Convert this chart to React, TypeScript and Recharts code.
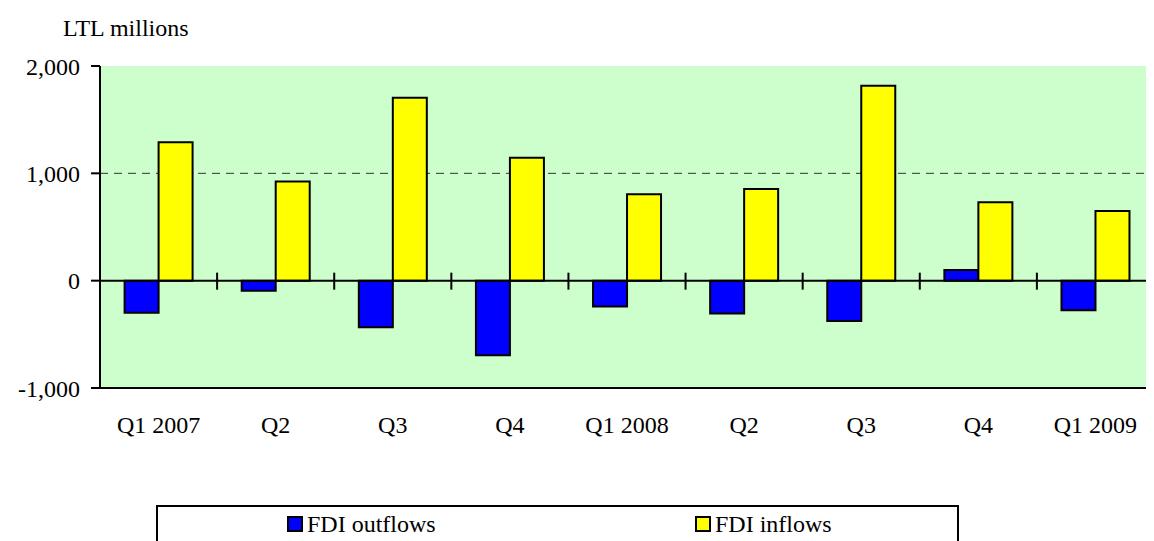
import { BarChart, Bar, XAxis, YAxis, CartesianGrid, ReferenceLine } from 'recharts';

const CATEGORIES = ['Q1 2007', 'Q2', 'Q3', 'Q4', 'Q1 2008', 'Q2', 'Q3', 'Q4', 'Q1 2009'];
const FDI_OUTFLOWS = [-300, -95, -435, -695, -240, -305, -375, 100, -275];
const FDI_INFLOWS = [1290, 925, 1705, 1145, 805, 855, 1815, 730, 650];
const Y_TICKS = [-1000, 0, 1000, 2000];
const SERIES_NAMES = ['FDI outflows', 'FDI inflows'];
const SERIES_COLORS = ['#0000FF', '#FFFF00'];

const FONT = 'serif';

const data = CATEGORIES.map((q, i) => ({
  key: `${q}-${i}`,
  outflows: FDI_OUTFLOWS[i],
  inflows: FDI_INFLOWS[i],
}));

// zero line with the small category divider ticks, like the excel axis
const ZeroAxis = (props: any) => {
  const { x1, x2, y1 } = props;
  const step = (x2 - x1) / CATEGORIES.length;
  return (
    <g>
      <line x1={x1} x2={x2} y1={y1} y2={y1} stroke="#000" strokeWidth={2} />
      {CATEGORIES.slice(1).map((_, i) => (
        <line
          key={i}
          x1={x1 + step * (i + 1)}
          x2={x1 + step * (i + 1)}
          y1={y1 - 8}
          y2={y1 + 9}
          stroke="#000"
          strokeWidth={2}
        />
      ))}
    </g>
  );
};

// page coords minus the 8px body margin
const legendX = [279, 687];

export default function App() {
  return (
    <div style={{ position: 'relative', width: 1146, height: 533, fontFamily: FONT }}>
      <div style={{ position: 'absolute', left: 55, top: 6, fontSize: 24, lineHeight: '28px', fontFamily: FONT }}>
        LTL millions
      </div>
      <BarChart
        width={1146}
        height={533}
        data={data}
        margin={{ top: 58, right: 0, left: 0, bottom: 113 }}
        barCategoryGap="21%"
        barGap={0}
      >
        <CartesianGrid
          vertical={false}
          fill="#CCFFCC"
          stroke="#333"
          strokeDasharray="8 6"
          horizontalValues={[1000]}
        />
        <XAxis
          dataKey="key"
          tickFormatter={(v: string) => v.split('-')[0]}
          interval={0}
          height={40}
          tickLine={false}
          tickSize={0}
          tickMargin={28}
          axisLine={{ stroke: '#000', strokeWidth: 2 }}
          tick={{ fill: '#000', fontSize: 24, fontFamily: FONT, style: { fontFamily: FONT } }}
        />
        <XAxis
          xAxisId="top"
          dataKey="key"
          orientation="top"
          height={0}
          tick={false}
          tickLine={false}
          axisLine={{ stroke: '#000', strokeWidth: 2 }}
        />
        <YAxis
          width={92}
          domain={[-1000, 2000]}
          ticks={Y_TICKS}
          interval={0}
          tickSize={9}
          tickMargin={11}
          tickFormatter={(v: number) => v.toLocaleString('en-US')}
          tickLine={{ stroke: '#000', strokeWidth: 2 }}
          axisLine={{ stroke: '#000', strokeWidth: 2 }}
          tick={{ fill: '#000', fontSize: 24, fontFamily: FONT, style: { fontFamily: FONT } }}
        />
        <Bar dataKey="outflows" name={SERIES_NAMES[0]} fill={SERIES_COLORS[0]} stroke="#000" strokeWidth={2} isAnimationActive={false} />
        <Bar dataKey="inflows" name={SERIES_NAMES[1]} fill={SERIES_COLORS[1]} stroke="#000" strokeWidth={2} isAnimationActive={false} />
        <ReferenceLine y={0} shape={ZeroAxis} />
      </BarChart>
      <div
        style={{
          position: 'absolute',
          left: 148,
          top: 497,
          width: 803,
          height: 36,
          boxSizing: 'border-box',
          borderTop: '2px solid #000',
          borderLeft: '2px solid #000',
          borderRight: '2px solid #000',
        }}
      />
      {SERIES_NAMES.map((name, i) => (
        <div key={name}>
          <div
            style={{
              position: 'absolute',
              left: legendX[i],
              top: 508,
              width: 16,
              height: 16,
              boxSizing: 'border-box',
              border: '2px solid #000',
              background: SERIES_COLORS[i],
            }}
          />
          <div
            style={{
              position: 'absolute',
              left: legendX[i] + 20,
              top: 502,
              fontSize: 24,
              lineHeight: '28px',
              whiteSpace: 'nowrap',
              fontFamily: FONT,
            }}
          >
            {name}
          </div>
        </div>
      ))}
    </div>
  );
}
